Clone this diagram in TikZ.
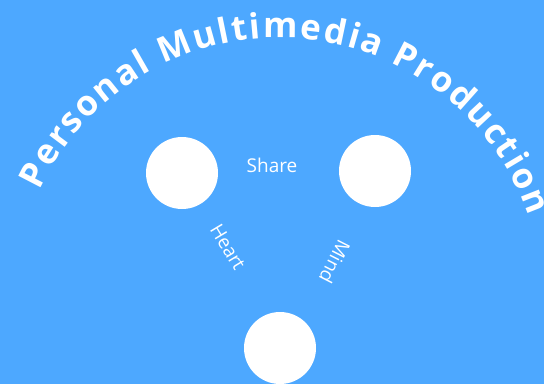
\documentclass[tikz,border=0pt]{standalone}
\usepackage{fontspec}
\setmainfont{Open Sans}
\usetikzlibrary{decorations.text,calc}
\definecolor{bg}{RGB}{77,168,255}
\tikzset{
  dot/.style={circle,fill=white,minimum size=72pt,inner sep=0pt},
  lbl/.style={text=white,font=\fontsize{19}{19}\selectfont,inner sep=0pt}
}
\begin{document}
\begin{tikzpicture}[x=1pt,y=1pt]
\fill[bg] (0,0) rectangle (544,384);
\useasboundingbox (0,0) rectangle (544,384);
\node[dot] (left) at (182,211) {};
\node[dot] (right) at (375,213) {};
\node[dot] (bottom) at (280,36) {};
\node[lbl] (share) at (272,219) {Share};
\node[lbl,rotate=-59] (heart) at (228,137) {Heart};
\node[lbl,rotate=-117] (mind) at (335,122) {Mind};
\coordinate (c) at (279,82);
\path[decorate,decoration={text along path,text align=fit to path,
  text={|\fontsize{35}{35}\selectfont\bfseries\color{white}|Personal Multimedia Production}}]
  ($(c)+(155:264)$) arc[start angle=155,end angle=19,radius=264];
\end{tikzpicture}
\end{document}
